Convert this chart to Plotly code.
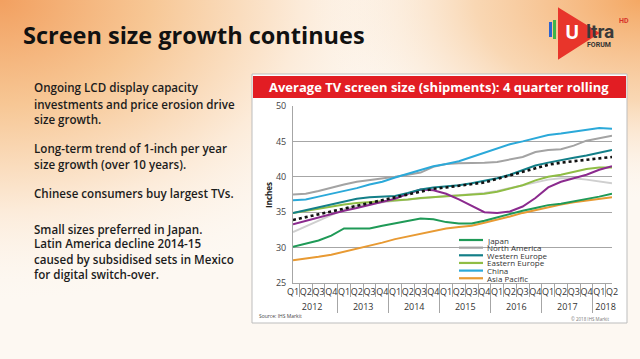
import base64
import plotly.graph_objects as go

# ---------------- data ----------------
years = ["2012", "2013", "2014", "2015", "2016", "2017", "2018"]
quarters_per_year = [4, 4, 4, 4, 4, 4, 2]
quarter_labels = ["Q1", "Q2", "Q3", "Q4"]

japan = [30.1, 30.5, 31.0, 31.7, 32.7, 32.7, 32.7, 33.1, 33.4, 33.7, 34.1, 34.0, 33.6,
         33.4, 33.4, 33.8, 34.3, 34.8, 35.2, 35.6, 36.0, 36.2, 36.5, 36.8, 37.2, 37.6]
north_america = [37.5, 37.6, 38.0, 38.5, 38.9, 39.3, 39.5, 39.7, 40.0, 40.3, 40.6, 41.4, 41.8,
                 41.9, 41.9, 42.0, 42.1, 42.4, 42.8, 43.5, 43.8, 43.9, 44.4, 45.1, 45.4, 45.8]
western_europe = [34.9, 35.3, 35.8, 36.2, 36.6, 36.9, 37.1, 37.2, 37.3, 37.7, 38.2, 38.5, 38.6,
                  38.8, 39.1, 39.4, 39.8, 40.3, 41.0, 41.6, 42.0, 42.4, 42.7, 43.0, 43.4, 43.8]
eastern_europe = [34.9, 35.2, 35.6, 35.9, 36.1, 36.3, 36.4, 36.5, 36.6, 36.8, 37.0, 37.1, 37.2,
                  37.3, 37.4, 37.6, 37.9, 38.3, 38.8, 39.5, 40.0, 40.3, 40.7, 41.1, 41.3, 41.3]
china = [36.7, 36.8, 37.2, 37.6, 37.9, 38.4, 38.9, 39.3, 39.9, 40.4, 40.9, 41.5, 41.8,
         42.2, 42.8, 43.4, 44.1, 44.6, 45.0, 45.4, 45.9, 46.1, 46.4, 46.6, 46.9, 46.8]
asia_pacific = [28.2, 28.4, 28.7, 29.0, 29.4, 29.8, 30.2, 30.7, 31.2, 31.6, 32.0, 32.4, 32.7,
                32.9, 33.1, 33.5, 33.9, 34.4, 34.9, 35.3, 35.8, 36.1, 36.4, 36.6, 36.9, 37.1]
latin_america = [33.3, 33.8, 34.3, 34.8, 35.2, 35.6, 36.0, 36.4, 36.9, 37.6, 38.2, 38.1, 37.6,
                 36.8, 35.9, 35.0, 34.9, 35.1, 35.8, 37.0, 38.5, 39.3, 39.8, 40.3, 41.0, 41.5]
mea = [32.2, 33.0, 33.9, 34.7, 35.4, 35.9, 36.2, 36.4, 36.6, 36.8, 37.0, 37.2, 37.3,
       37.4, 37.5, 37.7, 38.0, 38.4, 38.9, 39.3, 39.6, 39.8, 39.8, 39.6, 39.4, 39.1]
world = [33.9, 34.3, 34.8, 35.2, 35.6, 36.0, 36.4, 36.8, 37.2, 37.6, 38.0, 38.3, 38.5,
         38.7, 38.9, 39.2, 39.7, 40.2, 40.8, 41.3, 41.7, 42.0, 42.2, 42.4, 42.6, 42.8]

y_ticks = [25, 30, 35, 40, 45, 50]

legend_names = ["Japan", "North America", "Western Europe", "Eastern Europe", "China", "Asia Pacific"]
legend_colors = ["#1f9a57", "#a3a3a3", "#137f88", "#8fbd45", "#2ba9d9", "#e89a33"]

# ---------------- build ----------------
x_year, x_q = [], []
for yr, n in zip(years, quarters_per_year):
    for q in quarter_labels[:n]:
        x_year.append(yr)
        x_q.append(q)
xcat = [x_year, x_q]

W, H = 640, 359
def px(x):
    return x / W
def py(y):
    return 1 - y / H

fig = go.Figure()

series = [
    ("Middle East & Africa", mea, "#cfcfcf", "solid"),
    ("Asia Pacific", asia_pacific, legend_colors[5], "solid"),
    ("Japan", japan, legend_colors[0], "solid"),
    ("Eastern Europe", eastern_europe, legend_colors[3], "solid"),
    ("Latin America", latin_america, "#8b2a8e", "solid"),
    ("North America", north_america, legend_colors[1], "solid"),
    ("Western Europe", western_europe, legend_colors[2], "solid"),
    ("China", china, legend_colors[4], "solid"),
    ("World", world, "#111111", "dot"),
]
for name, vals, col, dash in series:
    fig.add_trace(go.Scatter(
        x=xcat, y=vals, mode="lines", name=name, showlegend=False,
        line=dict(color=col, width=2.6 if dash == "dot" else 2, dash=dash),
    ))

# background gradient
svg = f"""<svg xmlns='http://www.w3.org/2000/svg' width='{W}' height='{H}'>
<defs>
<radialGradient id='a' cx='0' cy='0' r='1' gradientUnits='userSpaceOnUse' gradientTransform='translate(0 0) scale(430 300)'>
<stop offset='0' stop-color='#f2a060'/>
<stop offset='0.35' stop-color='#f7c795'/>
<stop offset='0.7' stop-color='#fcebd9'/>
<stop offset='1' stop-color='#fdf6ee' stop-opacity='0'/>
</radialGradient>
<radialGradient id='b' cx='0' cy='0' r='1' gradientUnits='userSpaceOnUse' gradientTransform='translate(640 0) scale(330 200)'>
<stop offset='0' stop-color='#f4a864'/>
<stop offset='0.5' stop-color='#f8cfa4' stop-opacity='0.8'/>
<stop offset='1' stop-color='#fdf3e8' stop-opacity='0'/>
</radialGradient>
</defs>
<rect width='{W}' height='{H}' fill='#fdf8f2'/>
<rect width='{W}' height='{H}' fill='url(#a)'/>
<rect width='{W}' height='{H}' fill='url(#b)'/>
</svg>"""
src = "data:image/svg+xml;base64," + base64.b64encode(svg.encode()).decode()

shapes = []
# chart panel
shapes.append(dict(type="rect", xref="paper", yref="paper", x0=px(252), x1=px(627), y0=py(323), y1=py(74),
                   fillcolor="white", line=dict(color="#bdbdbd", width=1), layer="below"))
shapes.append(dict(type="rect", xref="paper", yref="paper", x0=px(253), x1=px(626), y0=py(98), y1=py(76),
                   fillcolor="#e21d23", line=dict(width=0), layer="below"))
# legend background (covers gridline)
shapes.append(dict(type="rect", xref="paper", yref="paper", x0=px(413), x1=px(611), y0=py(282), y1=py(235),
                   fillcolor="white", line=dict(width=0), layer="between"))
# logo
shapes.append(dict(type="rect", xref="paper", yref="paper", x0=px(549), x1=px(552), y0=py(37), y1=py(22),
                   fillcolor="#2d63d0", line=dict(width=0)))
shapes.append(dict(type="rect", xref="paper", yref="paper", x0=px(553), x1=px(556), y0=py(39), y1=py(20),
                   fillcolor="#3db54a", line=dict(width=0)))
tri = f"M {px(559)} {py(9)} L {px(598)} {py(33)} L {px(559)} {py(58)} Z"
shapes.append(dict(type="path", xref="paper", yref="paper", path=tri,
                   fillcolor="#e8352b", line=dict(color="#e8352b", width=2)))

annotations = []
annotations.append(dict(text="<b>Screen size growth continues</b>", x=px(21), y=py(35), xref="paper", yref="paper",
                        xanchor="left", yanchor="middle", showarrow=False,
                        font=dict(family="Open Sans", size=23.5, color="#111111")))
left_lines = [
    ("Ongoing LCD display capacity", 88),
    ("investments and price erosion drive", 104),
    ("size growth.", 119),
    ("Long-term trend of 1-inch per year", 149),
    ("size growth (over 10 years).", 164),
    ("Chinese consumers buy largest TVs.", 194),
    ("Small sizes preferred in Japan.", 229),
    ("Latin America decline 2014-15", 244),
    ("caused by subsidised sets in Mexico", 259),
    ("for digital switch-over.", 274),
]
for t, yy in left_lines:
    annotations.append(dict(text=t, x=px(32), y=py(yy), xref="paper", yref="paper", xanchor="left",
                            yanchor="middle", showarrow=False,
                            font=dict(family="Open Sans", size=11.6, color="#1c1c1c", weight=600)))
annotations.append(dict(text="<b>Average TV screen size (shipments): 4 quarter rolling</b>", x=px(439), y=py(87),
                        xref="paper", yref="paper", xanchor="center", yanchor="middle", showarrow=False,
                        font=dict(family="Open Sans", size=13, color="white")))
annotations.append(dict(text="<b>Inches</b>", x=px(268), y=py(195), xref="paper", yref="paper", textangle=-90,
                        xanchor="center", yanchor="middle", showarrow=False,
                        font=dict(family="Open Sans", size=8, color="#222222")))
annotations.append(dict(text="Source: IHS Markit", x=px(257), y=py(316), xref="paper", yref="paper",
                        xanchor="left", yanchor="middle", showarrow=False,
                        font=dict(family="Open Sans", size=5, color="#444444")))
annotations.append(dict(text="© 2018 IHS Markit", x=px(611), y=py(319), xref="paper", yref="paper",
                        xanchor="right", yanchor="middle", showarrow=False,
                        font=dict(family="Open Sans", size=4.5, color="#777777")))
# custom legend
for i, (nm, col) in enumerate(zip(legend_names, legend_colors)):
    yy = 240 + i * 7.65
    shapes.append(dict(type="line", xref="paper", yref="paper", x0=px(459), x1=px(483), y0=py(yy), y1=py(yy),
                       line=dict(color=col, width=2.2)))
    annotations.append(dict(text=nm, x=px(485), y=py(yy), xref="paper", yref="paper", xanchor="left",
                            yanchor="middle", showarrow=False,
                            font=dict(family="Open Sans", size=8, color="#333333")))
# logo text
annotations.append(dict(text="<b>U</b>", x=px(572), y=py(32), xref="paper", yref="paper", xanchor="center",
                        yanchor="middle", showarrow=False, font=dict(family="Open Sans", size=19, color="white")))
annotations.append(dict(text="<b>ltra</b>", x=px(584), y=py(31), xref="paper", yref="paper", xanchor="left",
                        yanchor="middle", showarrow=False, font=dict(family="Roboto", size=19, color="#3a3a3a")))
annotations.append(dict(text="<b>HD</b>", x=px(617), y=py(21), xref="paper", yref="paper", xanchor="left",
                        yanchor="middle", showarrow=False, font=dict(family="Roboto", size=7, color="#d8332a")))
annotations.append(dict(text="<b>FORUM</b>", x=px(585), y=py(45), xref="paper", yref="paper", xanchor="left",
                        yanchor="middle", showarrow=False, font=dict(family="Roboto", size=7, color="#333333")))

fig.update_layout(
    width=W, height=H, margin=dict(l=0, r=0, t=0, b=0),
    paper_bgcolor="#fdf8f2", plot_bgcolor="rgba(0,0,0,0)",
    showlegend=False,
    images=[dict(source=src, xref="paper", yref="paper", x=0, y=1, sizex=1, sizey=1,
                 sizing="stretch", xanchor="left", yanchor="top", layer="below")],
    shapes=shapes, annotations=annotations,
    xaxis=dict(type="multicategory", domain=[px(293), px(612)], automargin=False,
               showline=True, linecolor="#a6a6a6", linewidth=1, showgrid=False,
               ticks="outside", tickson="boundaries", ticklen=13, tickcolor="#a6a6a6",
               tickangle=0,
               showdividers=True, dividercolor="#a6a6a6", dividerwidth=1,
               tickfont=dict(family="Open Sans", size=9, color="#333333"), fixedrange=True),
    yaxis=dict(domain=[py(283), py(106)], range=[25, 50], tickvals=y_ticks, automargin=False,
               showline=True, linecolor="#a6a6a6", linewidth=1, showgrid=True, gridcolor="#a6a6a6",
               gridwidth=1, zeroline=False, ticks="", ticklabelstandoff=4,
               tickfont=dict(family="Open Sans", size=9, color="#444444"), fixedrange=True),
)

fig.write_html("out.html", config={"displayModeBar": False},
               post_script="document.body.style.margin='0';document.body.style.padding='0';"
                           "document.documentElement.style.overflow='hidden';")
